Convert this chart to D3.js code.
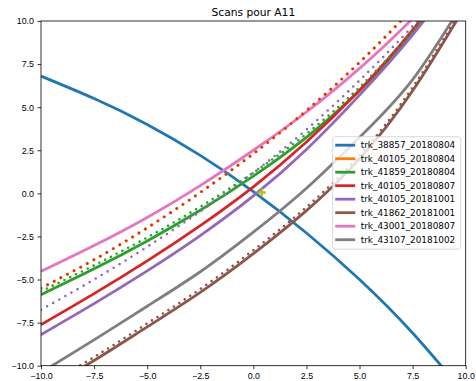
<!DOCTYPE html>
<html>
<head>
<meta charset="utf-8">
<script src="https://cdn.jsdelivr.net/npm/d3@7"></script>
<style>
  body { margin: 0; background: #fff; }
  svg { display: block; font-family: "DejaVu Sans", sans-serif; }
  .axis text { font-size: 8.9px; fill: #000; }
  .axis path, .axis line { stroke: #000; stroke-width: 0.8; }
</style>
</head>
<body>
<svg width="476" height="381"></svg>
<script>
const xs = [-10, -7.5, -5, -2.5, 0, 2.5, 5, 7.5, 10]

// solid lines (legend order)
const trk_38857_20180804 = [6.8, 5.5, 4.0, 2.2, 0.1, -2.3, -5.0, -8.1, -11.7]
const trk_40105_20180804 = []
const trk_41859_20180804 = [-5.88, -4.38, -2.76, -0.98, 1.0, 3.25, 5.95, 9.25, 13.15]
const trk_40105_20180807 = [-7.62, -5.82, -3.92, -1.87, 0.38, 2.98, 5.98, 9.48, 13.53]
const trk_40105_20181001 = [-8.2, -6.4, -4.5, -2.45, -0.15, 2.55, 5.7, 9.2, 13.2]
const trk_41862_20181001 = [-11.5, -9.7, -7.75, -5.75, -3.5, -1.0, 2.0, 5.95, 10.9]
const trk_43001_20180807 = [-4.53, -3.03, -1.4, 0.45, 2.5, 4.72, 7.25, 10.15, 13.5]
const trk_43107_20181002 = [-10.4, -8.5, -6.55, -4.55, -2.25, 0.3, 3.25, 6.6, 11.3]

// dotted marker series
const redDots = [-5.5, -3.85, -2.0, 0.05, 2.3, 4.8, 7.6, 10.75, 14.3]
const purpleDots = [-6.75, -5.0, -3.1, -1.05, 1.2, 3.7, 6.55, 9.7, 13.2]
const greenMarks = [-5.68, -4.18, -2.56, -0.78, 1.2, 3.45, 6.15, 9.45, 13.35]
const brownMarks = [-11.3, -9.5, -7.55, -5.55, -3.3, -0.8, 2.2, 6.15, 11.1]

const olivePoint = [0.4, 0.05]

const names = ["trk_38857_20180804", "trk_40105_20180804", "trk_41859_20180804", "trk_40105_20180807",
               "trk_40105_20181001", "trk_41862_20181001", "trk_43001_20180807", "trk_43107_20181002"]
const colors = ["#1f77b4", "#ff7f0e", "#2ca02c", "#d62728", "#9467bd", "#8c564b", "#e377c2", "#7f7f7f"]
const xTicks = [-10, -7.5, -5, -2.5, 0, 2.5, 5, 7.5, 10]
const yTicks = [-10, -7.5, -5, -2.5, 0, 2.5, 5, 7.5, 10]

const solid = [trk_38857_20180804, trk_40105_20180804, trk_41859_20180804, trk_40105_20180807,
               trk_40105_20181001, trk_41862_20181001, trk_43001_20180807, trk_43107_20181002]

const margin = {left: 41, right: 10.3, top: 21, bottom: 15.3}
const W = 476, H = 381

const svg = d3.select("svg")

const xScale = d3.scaleLinear().domain([-10, 10]).range([margin.left, W - margin.right])
const yScale = d3.scaleLinear().domain([-10, 10]).range([H - margin.bottom, margin.top])

svg.append("clipPath").attr("id", "plot")
    .append("rect")
    .attr("x", margin.left).attr("y", margin.top)
    .attr("width", W - margin.left - margin.right)
    .attr("height", H - margin.top - margin.bottom)

const line = d3.line()
    .x(d => xScale(d[0]))
    .y(d => yScale(d[1]))
    .curve(d3.curveNatural)

const toPts = vals => vals.map((v, i) => [xs[i], v])

const g = svg.append("g").attr("clip-path", "url(#plot)")

solid.forEach((vals, i) => {
    if (!vals.length) return
    g.append("path")
        .attr("d", line(toPts(vals)))
        .attr("fill", "none")
        .attr("stroke", colors[i])
        .attr("stroke-width", 2.8)
})

// dotted series drawn as round dashes along the path
const dotted = (vals, color, width, gap) => {
    g.append("path")
        .attr("d", line(toPts(vals)))
        .attr("fill", "none")
        .attr("stroke", color)
        .attr("stroke-width", width)
        .attr("stroke-linecap", "round")
        .attr("stroke-dasharray", "0 " + gap)
}
dotted(purpleDots, "#9467bd", 2.6, 7)
dotted(greenMarks, "#2ca02c", 2.6, 6.5)
dotted(brownMarks, "#8c564b", 2.6, 6.5)
dotted(redDots, "#ff7f0e", 3.4, 7.5)
dotted(redDots, "#d62728", 2.4, 7.5)

// olive plus marker
const px = xScale(olivePoint[0]), py = yScale(olivePoint[1])
g.append("path")
    .attr("d", `M${px - 4},${py}H${px + 4}M${px},${py - 4}V${py + 4}`)
    .attr("stroke", "#bcbd22")
    .attr("stroke-width", 2.4)

// axes
const fmt = d => d3.format(".1f")(d).replace("-", "\u2212")

svg.append("g")
    .attr("class", "axis")
    .attr("transform", `translate(0,${H - margin.bottom})`)
    .call(d3.axisBottom(xScale).tickValues(xTicks).tickSize(3.5).tickPadding(3).tickFormat(fmt))

svg.append("g")
    .attr("class", "axis")
    .attr("transform", `translate(${margin.left},0)`)
    .call(d3.axisLeft(yScale).tickValues(yTicks).tickSize(3.5).tickPadding(3.5).tickFormat(fmt))

svg.selectAll(".axis .domain").remove()

// spines
svg.append("rect")
    .attr("x", margin.left).attr("y", margin.top)
    .attr("width", W - margin.left - margin.right)
    .attr("height", H - margin.top - margin.bottom)
    .attr("fill", "none")
    .attr("stroke", "#000")
    .attr("stroke-width", 0.8)

// title
svg.append("text")
    .attr("x", (margin.left + W - margin.right) / 2)
    .attr("y", 16)
    .attr("text-anchor", "middle")
    .attr("font-size", 10.7)
    .text("Scans pour A11")

// legend
const lg = svg.append("g").attr("transform", "translate(332.7,136.7)")
lg.append("rect")
    .attr("width", 128).attr("height", 112.5)
    .attr("rx", 2.5)
    .attr("fill", "rgba(255,255,255,0.8)")
    .attr("stroke", "#d0d0d0")
    .attr("stroke-width", 0.8)

names.forEach((name, i) => {
    const y = 8.5 + i * 13.5
    lg.append("line")
        .attr("x1", 2.5).attr("x2", 22.5)
        .attr("y1", y).attr("y2", y)
        .attr("stroke", colors[i])
        .attr("stroke-width", 2.8)
    lg.append("text")
        .attr("x", 28)
        .attr("y", y + 3.2)
        .attr("font-size", 8.9)
        .text(name)
})
</script>
</body>
</html>
